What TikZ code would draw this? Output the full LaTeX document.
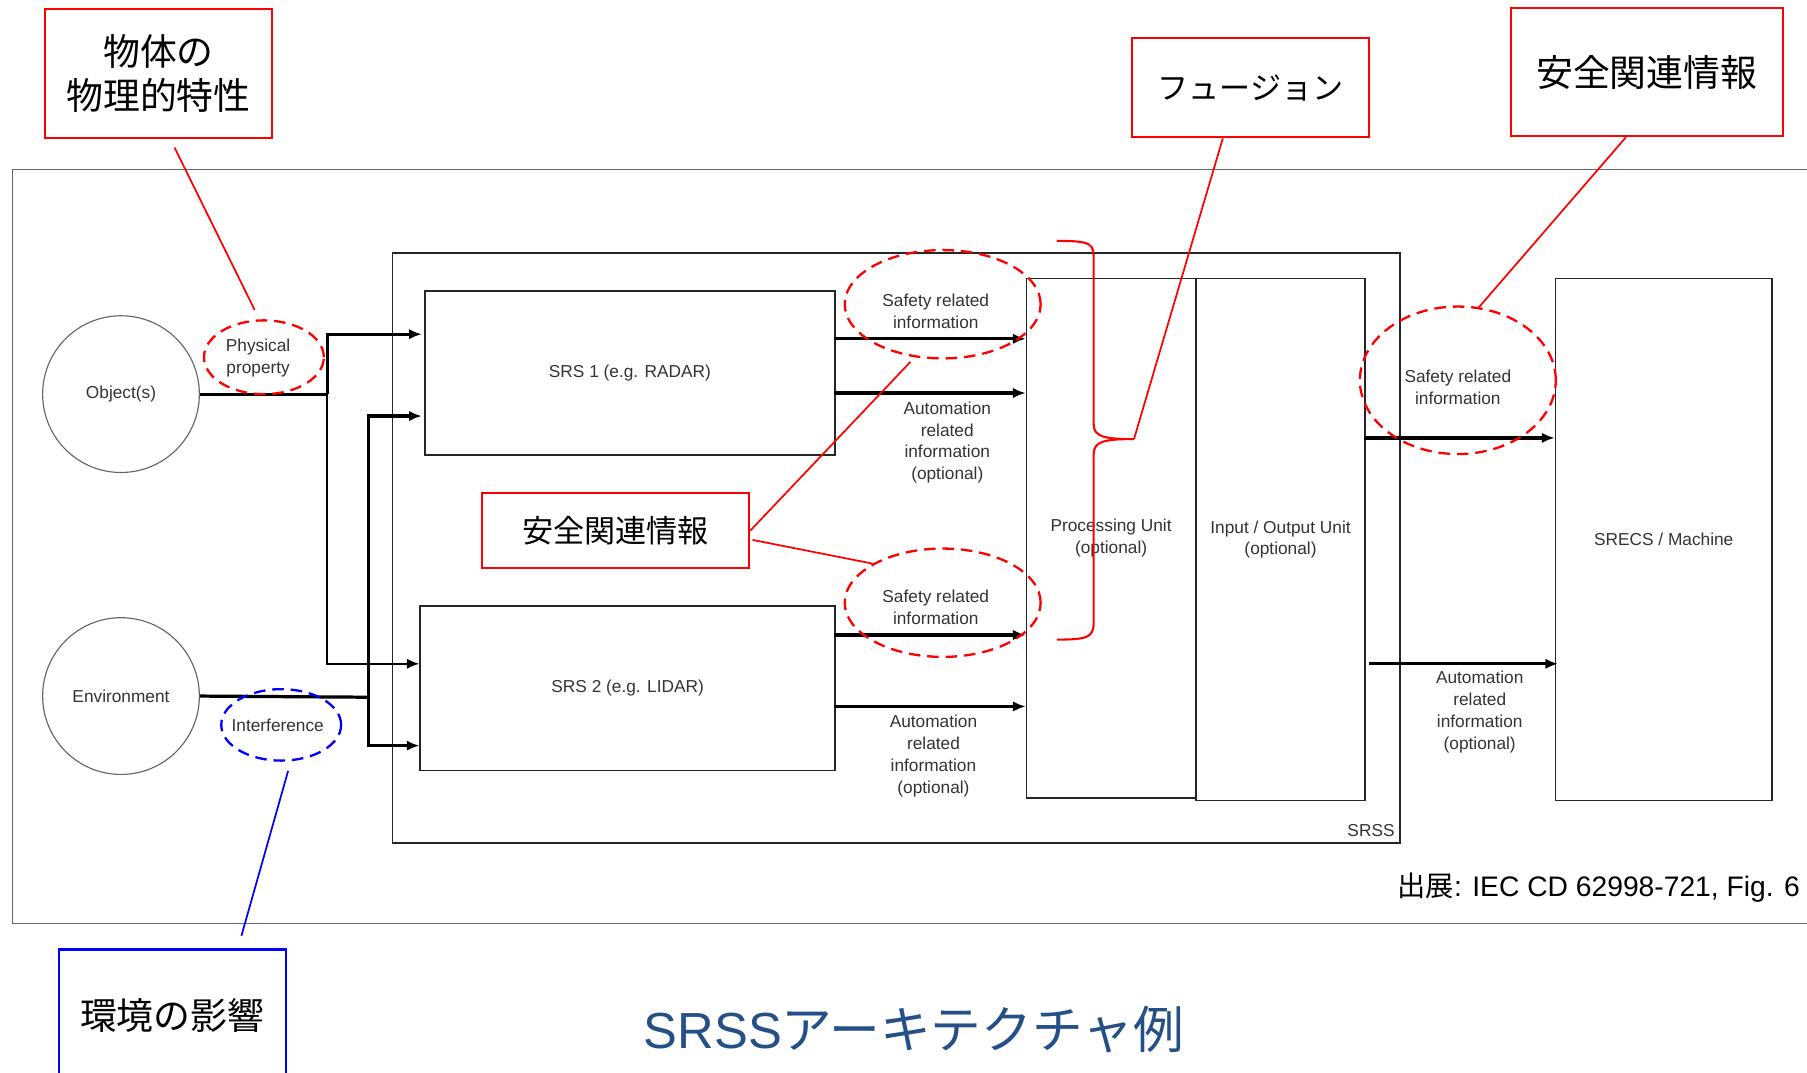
\documentclass[tikz,border=0pt]{standalone}
\usepackage{fontspec}
\setmainfont{Liberation Sans}
\newfontfamily\jp{Noto Sans CJK JP}
\usetikzlibrary{arrows.meta,shapes.geometric,calc}
\definecolor{titleblue}{RGB}{36,79,135}
\begin{document}
\begin{tikzpicture}[x=1pt,y=-1pt,
  lbl/.style={font=\fontsize{15}{19}\selectfont, text=black!80, align=center, inner sep=0pt},
  blk/.style={draw=black!85, line width=1.3pt, inner sep=0pt, anchor=north west, font=\fontsize{15}{19}\selectfont, text=black!80, align=center},
  circ/.style={circle, draw=black!60, line width=1pt, minimum size=136pt, inner sep=0pt, font=\fontsize{15}{19}\selectfont, text=black!80},
  arr/.style={line width=2.8pt, -{Latex[length=11pt,width=9pt]}},
  arrthin/.style={line width=1.8pt, -{Latex[length=11pt,width=9pt]}},
  rbox/.style={draw=red, line width=2pt, inner sep=0pt, anchor=north west, font=\jp\fontsize{32}{38}\selectfont, align=center},
  bbox/.style={draw=blue, line width=2pt, inner sep=0pt, anchor=north west, font=\jp\fontsize{32}{38}\selectfont, align=center},
  rell/.style={ellipse, draw=red, line width=2pt, dash pattern=on 10pt off 6pt, inner sep=0pt},
  bell/.style={ellipse, draw=blue, line width=2pt, dash pattern=on 10pt off 6pt, inner sep=0pt},
  rlead/.style={draw=red, line width=1.5pt},
  blead/.style={draw=blue, line width=1.5pt}
]
\useasboundingbox (0,0) rectangle (1568,931);
% outer frame
\draw[black!60, line width=1pt] (11,147) rectangle (1580,801);

% SRSS enclosure
\node[blk, minimum width=874pt, minimum height=512pt] (srss) at (340,219) {};
\node[lbl, anchor=south east] (srsslbl) at ($(srss.south east)+(-5,-6)$) {SRSS};

% main blocks
\node[blk, minimum width=356pt, minimum height=142pt] (srs1) at (368,252) {SRS 1 (e.g. RADAR)};
\node[blk, minimum width=360pt, minimum height=143pt] (srs2) at (364,525) {SRS 2 (e.g. LIDAR)};
\node[blk, minimum width=147pt, minimum height=451pt] (pu) at (890,241) {Processing Unit\\(optional)};
\node[blk, minimum width=147pt, minimum height=453pt] (io) at (1037,241) {Input / Output Unit\\(optional)};
\node[blk, minimum width=188pt, minimum height=453pt] (srecs) at (1349,241) {SRECS / Machine};

% sources
\node[circ] (obj) at (105,342) {Object(s)};
\node[circ] (env) at (105,604) {Environment};

% helper coordinates
\coordinate (j1) at (284,342);
\coordinate (j2) at (320,605);
\coordinate (s1a) at (366,290);
\coordinate (s1b) at (366,361);
\coordinate (s2a) at (364,576);
\coordinate (s2b) at (364,647);

% input connectors
\draw[line width=2.8pt] (obj.east) -- (j1);
\draw[arr] (j1) |- (s1a);
\draw[arrthin] (j1) |- (s2a);
\draw[line width=2.8pt] (env.east) -- (j2);
\draw[arr] (j2) |- (s1b);
\draw[arr] (j2) |- (s2b);

% SRS outputs
\coordinate (o1a) at (724,294);
\coordinate (o1b) at (724,341);
\coordinate (o2a) at (724,551);
\coordinate (o2b) at (724,613);
\draw[arr] (o1a) -- (o1a -| pu.west);
\draw[arr] (o1b) -- (o1b -| pu.west);
\draw[arr] (o2a) -- (o2a -| pu.west);
\draw[arr] (o2b) -- (o2b -| pu.west);
\coordinate (r1) at (1184,380);
\coordinate (r2) at (1188,576);
\draw[arr] (r1) -- (r1 -| srecs.west);
\draw[arr] (r2) -- ($(r2 -| srecs.west)+(3,0)$);

% flow labels
\node[lbl] (l1a) at (812,270) {Safety related\\information};
\node[lbl] (l1b) at (822,384) {Automation\\related\\information\\(optional)};
\node[lbl] (l2a) at (812,527) {Safety related\\information};
\node[lbl] (l2b) at (810,656) {Automation\\related\\information\\(optional)};
\node[lbl] (lr1) at (1265,336) {Safety related\\information};
\node[lbl] (lr2) at (1284,618) {Automation\\related\\information\\(optional)};

% highlight ellipses
\node[rell, minimum width=104pt, minimum height=64pt] (phys) at (229,310) {};
\node[lbl] (physlbl) at (224,311) {Physical\\property};
\node[rell, minimum width=170pt, minimum height=94pt] (e1) at (818,264) {};
\node[rell, minimum width=170pt, minimum height=94pt] (e2) at (818,523) {};
\node[rell, minimum width=170pt, minimum height=128pt] (e3) at (1265,330) {};
\node[bell, minimum width=104pt, minimum height=62pt] (intf) at (244,629) {};
\node[lbl] (intflbl) at (241,629) {Interference};

% annotation boxes
\node[rbox, minimum width=197pt, minimum height=112pt] (nobj) at (38,7) {物体の\\物理的特性};
\node[rbox, minimum width=206pt, minimum height=86pt, font=\jp\fontsize{27}{32}\selectfont] (nfus) at (981,32) {フュージョン};
\node[rbox, minimum width=236pt, minimum height=111pt] (nsafe) at (1310,6) {安全関連情報};
\node[rbox, minimum width=232pt, minimum height=65pt, font=\jp\fontsize{27}{32}\selectfont] (nsafe2) at (417,427) {安全関連情報};
\node[bbox, minimum width=197pt, minimum height=114pt] (nenv) at (50,823) {環境の影響};

% brace
\coordinate (btip) at (984,381);
\draw[red, line width=1.8pt] (917,209) .. controls (949,209) and (949,212) .. (949,226) -- (949,368)
  .. controls (949,379) and (958,381) .. (btip)
  .. controls (958,381) and (949,383) .. (949,394) -- (949,540)
  .. controls (949,553) and (944,555) .. (917,555);

% leader lines
\draw[rlead] ($(nobj.south west)!0.57!(nobj.south east)+(0,7)$) -- ($(phys.north)+(-8,-8)$);
\draw[rlead] (btip) -- ($(nfus.south west)!0.385!(nfus.south east)$);
\draw[rlead] ($(nsafe.south west)!0.424!(nsafe.south east)$) -- ($(e3.north)+(18,2)$);
\draw[rlead] (nsafe2.east) -- ($(e1.south)+(-28,2)$);
\draw[rlead] ($(nsafe2.east)+(2,8)$) -- (e2.north west);
\draw[blead] ($(nenv.north)+(60,-11)$) -- ($(intf.south)+(6,8)$);

% caption and title
\node[anchor=east, inner sep=0pt, font=\fontsize{24.5}{28}\selectfont] (cap) at (1562,770) {{\jp 出展}: IEC CD 62998-721, Fig. 6};
\node[inner sep=0pt, text=titleblue, font=\fontsize{44}{50}\selectfont] (title) at (793,893) {SRSS{\jp アーキテクチャ例}};
\end{tikzpicture}
\end{document}
